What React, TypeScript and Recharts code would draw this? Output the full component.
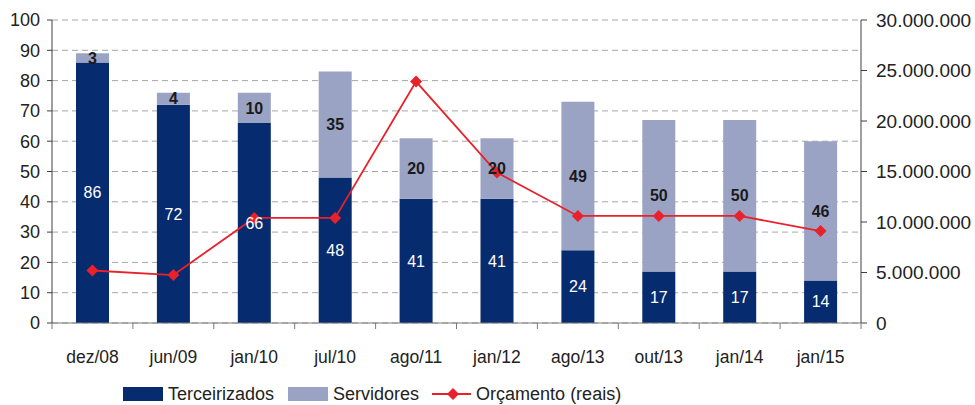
import { ComposedChart, Bar, Line, XAxis, YAxis, CartesianGrid, Legend, LabelList } from "recharts";

const categories = ["dez/08", "jun/09", "jan/10", "jul/10", "ago/11", "jan/12", "ago/13", "out/13", "jan/14", "jan/15"];
const terceirizados = [86, 72, 66, 48, 41, 41, 24, 17, 17, 14];
const servidores = [3, 4, 10, 35, 20, 20, 49, 50, 50, 46];
const orcamento = [5200000, 4750000, 10400000, 10400000, 23900000, 14900000, 10600000, 10600000, 10600000, 9100000];

const leftTicks = [0, 10, 20, 30, 40, 50, 60, 70, 80, 90, 100];
const rightTicks = [0, 5000000, 10000000, 15000000, 20000000, 25000000, 30000000];

const data = categories.map((label, i) => ({
  label,
  terceirizados: terceirizados[i],
  servidores: servidores[i],
  orcamento: orcamento[i],
}));

const NAVY = "#062B6F";
const LIGHT = "#9AA3C4";
const RED = "#E8212B";
const SANS = "'Liberation Sans', Arial, sans-serif";

const W = 975;
const H = 405;
const PLOT_LEFT = 52;
const PLOT_RIGHT = 861;
const HALF_BAND = (PLOT_RIGHT - PLOT_LEFT) / categories.length / 2;

const fmtDots = (v: number) => String(v).replace(/\B(?=(\d{3})+(?!\d))/g, ".");

function XTick(props: any) {
  const { x, y, payload, index } = props;
  const last = index === categories.length - 1;
  return (
    <g>
      <line x1={x - HALF_BAND} x2={x - HALF_BAND} y1={y} y2={y + 6} stroke="#7a7a7a" />
      {last && <line x1={x + HALF_BAND} x2={x + HALF_BAND} y1={y} y2={y + 6} stroke="#7a7a7a" />}
      <text x={x} y={y + 40} textAnchor="middle" fill="#222" fontSize={17.5} fontFamily={SANS}>
        {payload.value}
      </text>
    </g>
  );
}

function Diamond(props: any) {
  const { cx, cy } = props;
  if (cx == null || cy == null) return null;
  const r = 6;
  return <polygon points={`${cx},${cy - r} ${cx + r},${cy} ${cx},${cy + r} ${cx - r},${cy}`} fill={RED} />;
}

function LegendContent() {
  const text = { fontFamily: SANS, fontSize: 18, color: "#222", marginLeft: 5 };
  return (
    <div
      style={{
        height: 38,
        boxSizing: "border-box",
        paddingTop: 16,
        paddingLeft: 123,
        display: "flex",
        alignItems: "center",
      }}
    >
      <span style={{ width: 40, height: 14, background: NAVY, display: "inline-block" }} />
      <span style={{ ...text, marginRight: 14 }}>Terceirizados</span>
      <span style={{ width: 40, height: 14, background: LIGHT, display: "inline-block" }} />
      <span style={{ ...text, marginRight: 13 }}>Servidores</span>
      <svg width={39} height={14}>
        <line x1={0} x2={39} y1={7} y2={7} stroke={RED} strokeWidth={2} />
        <polygon points="21,1 27,7 21,13 15,7" fill={RED} />
      </svg>
      <span style={text}>Orçamento (reais)</span>
    </div>
  );
}

export default function App() {
  return (
    <div style={{ position: "absolute", left: 0, top: 0, width: W, height: H, background: "#fff" }}>
      <ComposedChart width={W} height={H} data={data} margin={{ top: 20, right: 0, bottom: 0, left: 0 }}>
        <CartesianGrid
          yAxisId="left"
          vertical={false}
          stroke="#a6a6a6"
          strokeDasharray="6 4"
        />
        <XAxis
          dataKey="label"
          height={44}
          tick={<XTick />}
          tickLine={false}
          tickSize={0}
          tickMargin={0}
          axisLine={{ stroke: "#7a7a7a" }}
          interval={0}
        />
        <YAxis
          yAxisId="left"
          width={PLOT_LEFT}
          domain={[0, 100]}
          ticks={leftTicks}
          interval={0}
          tickSize={5}
          tickMargin={7}
          axisLine={{ stroke: "#404040" }}
          tickLine={{ stroke: "#404040" }}
          tick={{ fontSize: 18, fill: "#222", fontFamily: SANS }}
        />
        <YAxis
          yAxisId="right"
          orientation="right"
          width={W - PLOT_RIGHT}
          domain={[0, 30000000]}
          ticks={rightTicks}
          interval={0}
          tickSize={6}
          tickMargin={9}
          axisLine={{ stroke: "#404040" }}
          tickLine={{ stroke: "#404040" }}
          tickFormatter={fmtDots}
          tick={{ fontSize: 19, fill: "#222", fontFamily: SANS }}
        />
        <Legend verticalAlign="bottom" content={<LegendContent />} wrapperStyle={{ left: 0, width: W }} />
        <Bar yAxisId="left" dataKey="terceirizados" stackId="a" fill={NAVY} barSize={33} isAnimationActive={false}>
          <LabelList dataKey="terceirizados" position="center" fill="#fff" fontSize={16} fontFamily={SANS} />
        </Bar>
        <Bar yAxisId="left" dataKey="servidores" stackId="a" fill={LIGHT} barSize={33} isAnimationActive={false}>
          <LabelList
            dataKey="servidores"
            position="center"
            fill="#1a1a1a"
            fontSize={16}
            fontWeight="bold"
            fontFamily={SANS}
          />
        </Bar>
        <Line
          yAxisId="right"
          dataKey="orcamento"
          stroke={RED}
          strokeWidth={1.8}
          dot={<Diamond />}
          activeDot={false}
          isAnimationActive={false}
        />
      </ComposedChart>
    </div>
  );
}
